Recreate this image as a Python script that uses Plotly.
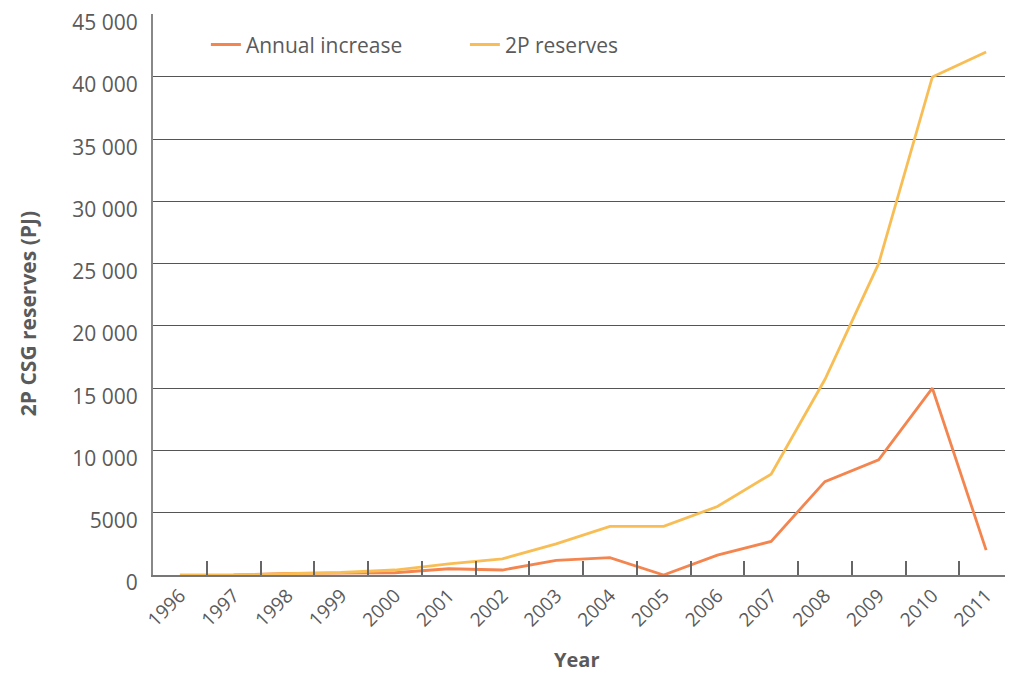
import plotly.graph_objects as go

years = [str(y) for y in range(1996, 2012)]
reserves_2p = [0, 0, 100, 200, 400, 900, 1300, 2500, 3900, 3900, 5500, 8100, 15700, 25000, 40000, 42000]
annual_years = [str(y) for y in range(1997, 2012)]
annual_increase = [0, 130, 150, 180, 500, 400, 1170, 1400, 0, 1600, 2700, 7500, 9250, 15000, 2000]

y_tickvals = [0, 5000, 10000, 15000, 20000, 25000, 30000, 35000, 40000, 45000]
y_ticktext = ["0", "5000", "10 000", "15 000", "20 000", "25 000", "30 000", "35 000", "40 000", "45 000"]

FONT = "Open Sans"
TXT = "#5a5a5a"

fig = go.Figure()
fig.add_trace(go.Scatter(x=annual_years, y=annual_increase, mode="lines", name="Annual increase",
                         line=dict(color="#F4854F", width=2.8)))
fig.add_trace(go.Scatter(x=years, y=reserves_2p, mode="lines", name="2P reserves",
                         line=dict(color="#F8BE55", width=2.8)))

fig.update_layout(
    width=1005, height=665,
    margin=dict(l=145, r=0, t=6, b=98),
    plot_bgcolor="white", paper_bgcolor="white",
    font=dict(family=FONT, size=20, color=TXT),
    legend=dict(orientation="h", x=0.0615, y=0.945, xanchor="left", yanchor="middle",
                font=dict(size=21, color=TXT), entrywidth=214, entrywidthmode="pixels",
                bgcolor="rgba(0,0,0,0)"),
    xaxis=dict(type="category", categoryorder="array", categoryarray=years,
               range=[-0.5, 15.5], tickson="boundaries", ticks="inside", ticklen=14,
               tickwidth=1.5, tickcolor="#666", showline=True, linecolor="#777", linewidth=2,
               showgrid=False, tickangle=-45, tickfont=dict(size=19, color=TXT),
               automargin=False),
    yaxis=dict(range=[0, 45050], tickvals=y_tickvals, ticktext=y_ticktext,
               showgrid=True, gridcolor="#555", gridwidth=1, zeroline=False,
               showline=True, linecolor="#888", linewidth=2, ticks="",
               tickfont=dict(size=21, color=TXT), ticklabelstandoff=9, ticklabelshift=8,
               ticklabeloverflow="allow", automargin=False),
    annotations=[
        dict(text="<b>2P CSG reserves (PJ)</b>", textangle=-90, x=-0.1453, y=0.465,
             xref="paper", yref="paper", showarrow=False, font=dict(size=21, color=TXT),
             xanchor="center", yanchor="middle"),
        dict(text="<b>Year</b>", x=0.493, y=-0.1515, xref="paper", yref="paper",
             showarrow=False, font=dict(size=20, color=TXT), xanchor="center", yanchor="middle"),
    ],
)

fig.write_html("out.html")
